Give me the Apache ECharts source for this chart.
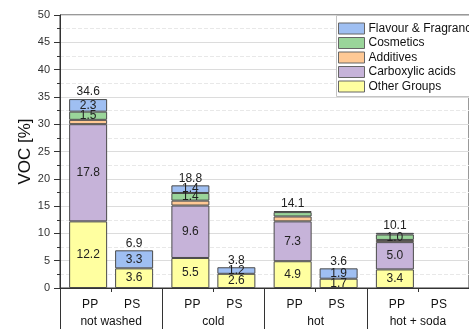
<!DOCTYPE html>
<html>
<head>
<meta charset="utf-8">
<script src="https://cdn.jsdelivr.net/npm/echarts@6/dist/echarts.min.js"></script>
<style>
  html, body { margin: 0; padding: 0; background: #fff; }
  #chart { width: 469px; height: 329px; }
</style>
</head>
<body>
<div id="chart"></div>
<script>
// Washing conditions along the x axis
const categories = ['not washed', 'cold', 'hot', 'hot + soda'];
const polymers = ['PP', 'PS'];

// VOC share [%] per compound group, polypropylene
const ppOther = [12.2, 5.5, 4.9, 3.4];
const ppCarboxylic = [17.8, 9.6, 7.3, 5.0];
const ppAdditives = [0.8, 0.9, 0.9, 0.4];
const ppCosmetics = [1.5, 1.4, 0.8, 1.0];
const ppFlavour = [2.3, 1.4, 0.2, 0.3];
const ppTotal = [34.6, 18.8, 14.1, 10.1];

// VOC share [%] per compound group, polystyrene
const psOther = [3.6, 2.6, 1.7, null];
const psCarboxylic = [null, null, null, null];
const psAdditives = [null, null, null, null];
const psCosmetics = [null, null, null, null];
const psFlavour = [3.3, 1.2, 1.9, null];
const psTotal = [6.9, 3.8, 3.6, null];

const groupNames = ['Other Groups', 'Carboxylic acids', 'Additives', 'Cosmetics', 'Flavour & Fragrance'];
const groupColors = ['#FFFFA0', '#C6B3D9', '#FFC995', '#9AD59A', '#9FBFF2'];

const ppSeries = [ppOther, ppCarboxylic, ppAdditives, ppCosmetics, ppFlavour];
const psSeries = [psOther, psCarboxylic, psAdditives, psCosmetics, psFlavour];

const FONT = 'Arial, "Liberation Sans", sans-serif';

function segment(name, color, data, stack) {
  return {
    name: name,
    type: 'bar',
    stack: stack,
    data: data,
    barWidth: 38,
    barGap: '21%',
    itemStyle: { color: color, borderColor: '#4a4a4a', borderWidth: 1 },
    label: {
      show: true,
      position: 'inside',
      fontFamily: FONT,
      fontSize: 12,
      color: '#222',
      formatter: p => (p.value != null && p.value >= 1 ? p.value.toFixed(1) : '')
    },
    emphasis: { disabled: true }
  };
}

function totalLabel(stack, totals) {
  return {
    name: stack + ' total',
    type: 'bar',
    stack: stack,
    data: totals.map(t => (t == null ? null : 0)),
    barWidth: 38,
    barGap: '21%',
    itemStyle: { color: 'rgba(0,0,0,0)', borderWidth: 0 },
    label: {
      show: true,
      position: 'top',
      distance: 1,
      fontFamily: FONT,
      fontSize: 12,
      color: '#222',
      formatter: p => (totals[p.dataIndex] == null ? '' : totals[p.dataIndex].toFixed(1))
    },
    emphasis: { disabled: true }
  };
}

const series = [];
groupNames.forEach((n, i) => series.push(segment(n, groupColors[i], ppSeries[i], polymers[0])));
series.push(totalLabel(polymers[0], ppTotal));
groupNames.forEach((n, i) => series.push(segment(n, groupColors[i], psSeries[i], polymers[1])));
series.push(totalLabel(polymers[1], psTotal));

const chart = echarts.init(document.getElementById('chart'), null, { renderer: 'canvas' });
chart.setOption({
  animation: false,
  backgroundColor: '#fff',
  textStyle: { fontFamily: FONT },
  grid: {
    left: 60, right: -14, top: 15, bottom: 41,
    show: true, borderColor: '#333', borderWidth: 1, backgroundColor: 'transparent'
  },
  // legend frame, open to the right where it runs past the page edge
  graphic: [{
    type: 'rect',
    z: 5,
    shape: { x: 336.5, y: 15.5, width: 160, height: 81 },
    style: { fill: '#fff', stroke: '#c4c4c4', lineWidth: 1 }
  }],
  legend: {
    data: groupNames.slice().reverse(),
    orient: 'vertical',
    left: 337,
    top: 18,
    z: 10,
    padding: [4, 4, 4, 1],
    icon: 'rect',
    itemWidth: 26,
    itemHeight: 11,
    itemGap: 1.5,
    itemStyle: { borderColor: '#666', borderWidth: 1 },
    textStyle: { fontFamily: FONT, fontSize: 12, color: '#111', lineHeight: 13, padding: [0, 0, 0, -1] },
    selectedMode: false
  },
  xAxis: [
    {
      type: 'category',
      data: categories,
      position: 'bottom',
      axisLine: { show: true, lineStyle: { color: '#333', width: 1 } },
      axisTick: { show: true, alignWithLabel: false, length: 41, lineStyle: { color: '#333' } },
      axisLabel: {
        margin: 8,
        interval: 0,
        fontFamily: FONT,
        formatter: v => '{p|' + polymers[0] + '}{p|' + polymers[1] + '}\n{g|' + v + '}',
        rich: {
          p: { width: 42, align: 'center', fontSize: 12, color: '#111', lineHeight: 17, fontFamily: FONT },
          g: { fontSize: 12, color: '#111', lineHeight: 17, fontFamily: FONT }
        }
      },
      splitLine: { show: false }
    },
    {
      type: 'category',
      data: categories,
      position: 'bottom',
      axisLine: { show: false },
      axisTick: { show: true, alignWithLabel: true, length: 4, lineStyle: { color: '#333' } },
      axisLabel: { show: false },
      splitLine: { show: false }
    }
  ],
  yAxis: {
    type: 'value',
    min: 0,
    max: 50,
    interval: 5,
    name: 'VOC [%]',
    nameLocation: 'middle',
    nameGap: 26,
    nameMoveOverlap: false,
    nameTextStyle: { fontFamily: FONT, fontSize: 17, color: '#111' },
    axisLine: { show: true, lineStyle: { color: '#333', width: 1 } },
    axisTick: { show: true, length: 6, lineStyle: { color: '#333' } },
    minorTick: { show: true, splitNumber: 2, length: 3, lineStyle: { color: '#333' } },
    axisLabel: { margin: 10, fontFamily: FONT, fontSize: 11, color: '#333' },
    splitLine: { show: true, lineStyle: { color: '#dcdcdc', width: 1 } },
    minorSplitLine: { show: true, lineStyle: { color: '#e8e8e8', type: 'dashed', width: 1 } }
  },
  series: series
});
</script>
</body>
</html>
